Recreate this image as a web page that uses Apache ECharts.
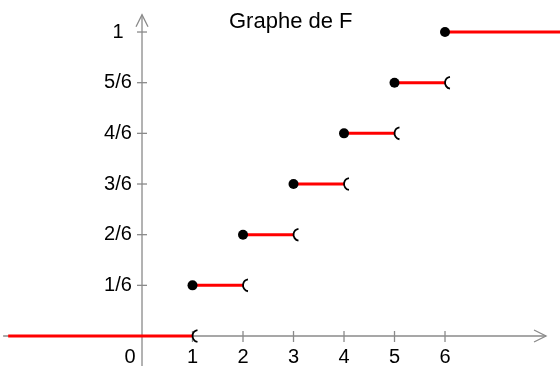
<!DOCTYPE html>
<html>
<head>
<meta charset="utf-8">
<script src="https://cdn.jsdelivr.net/npm/echarts@6/dist/echarts.min.js"></script>
<style>html,body{margin:0;padding:0;background:#fff}#c{width:560px;height:366px}</style>
</head>
<body>
<div id="c"></div>
<script>
// ---- data ----
const titleText = 'Graphe de F';
const jumpX = [1, 2, 3, 4, 5, 6];           // points where F jumps
const Fsixths = [0, 1, 2, 3, 4, 5, 6];      // F value on each interval, in sixths
const leftEnd = -2.65;                      // where the first red segment starts
const rightEnd = 8.3;                       // where the last red segment ends
const xTickValues = [1, 2, 3, 4, 5, 6];
const xLabelValues = [0, 1, 2, 3, 4, 5, 6];
const xLabelTexts = ['0', '1', '2', '3', '4', '5', '6'];
const yTickValues = [1, 2, 3, 4, 5, 6];
const yLabelTexts = ['1/6', '2/6', '3/6', '4/6', '5/6', '1'];
const xAxisFrom = -2.75, xAxisTo = 8.0;
const yAxisFrom = -0.6, yAxisTo = 6.34;
const xMin = -2.812, xMax = 8.277;
const yMin = -0.592, yMax = 6.632;

// ---- build ----
const segments = Fsixths.map((v, i) => [
  i === 0 ? leftEnd : jumpX[i - 1],
  i === Fsixths.length - 1 ? rightEnd : jumpX[i],
  v
]);
const closedPts = jumpX.map((x, i) => [x, Fsixths[i + 1]]);
const openPts = jumpX.map((x, i) => [x, Fsixths[i]]);

const axisColor = '#8a8a8a';
const font = 'Liberation Sans, Arial, sans-serif';
const W = 560, H = 366;
// pixel offsets that put each axis' labels on the other axis' zero
const xAxisOffset = -(H * (0 - yMin) / (yMax - yMin));
const yAxisOffset = -(W * (0 - xMin) / (xMax - xMin));

const chart = echarts.init(document.getElementById('c'), null, {renderer: 'canvas'});
chart.setOption({
  animation: false,
  backgroundColor: '#ffffff',
  title: {
    text: titleText, left: 224, top: 6,
    textStyle: {fontFamily: font, fontSize: 22, fontWeight: 'normal', color: '#000'}
  },
  grid: {left: 0, right: 0, top: 0, bottom: 0, containLabel: false, outerBoundsMode: 'none'},
  xAxis: {
    type: 'value', min: xMin, max: xMax, position: 'bottom', offset: xAxisOffset,
    axisLine: {show: false, onZero: false},
    axisTick: {show: false}, splitLine: {show: false},
    axisLabel: {
      customValues: xLabelValues,
      formatter: v => { const t = xLabelTexts[xLabelValues.indexOf(v)]; return v === 0 ? '{z|' + t + '}' : t; },
      margin: 11, fontFamily: font, fontSize: 20, color: '#000',
      rich: {z: {fontFamily: font, fontSize: 20, color: '#000', padding: [0, 24, 0, 0]}}
    }
  },
  yAxis: {
    type: 'value', min: yMin, max: yMax, position: 'left', offset: yAxisOffset,
    axisLine: {show: false, onZero: false},
    axisTick: {show: false}, splitLine: {show: false},
    axisLabel: {
      customValues: yTickValues,
      formatter: v => yLabelTexts[yTickValues.indexOf(v)],
      margin: 24, align: 'center', fontFamily: font, fontSize: 20, color: '#000'
    }
  },
  series: [
    {
      type: 'custom', z: 1, silent: true,
      data: [[0, 0]],
      renderItem: function (params, api) {
        const xl = api.coord([xAxisFrom, 0]), xr = api.coord([xAxisTo, 0]);
        const yb = api.coord([0, yAxisFrom]), yt = api.coord([0, yAxisTo]);
        const st = {stroke: axisColor, lineWidth: 1.3, fill: null};
        const ch = [];
        ch.push({type: 'line', shape: {x1: xl[0], y1: xl[1], x2: xr[0], y2: xr[1]}, style: st});
        ch.push({type: 'line', shape: {x1: yb[0], y1: yb[1], x2: yt[0], y2: yt[1]}, style: st});
        ch.push({type: 'polyline', shape: {points: [[xr[0] - 12, xr[1] - 6], [xr[0], xr[1]], [xr[0] - 12, xr[1] + 6]]}, style: st});
        ch.push({type: 'polyline', shape: {points: [[yt[0] - 6, yt[1] + 12], [yt[0], yt[1]], [yt[0] + 6, yt[1] + 12]]}, style: st});
        xTickValues.forEach(v => {
          const p = api.coord([v, 0]);
          ch.push({type: 'line', shape: {x1: p[0], y1: p[1] - 5, x2: p[0], y2: p[1] + 6}, style: st});
        });
        yTickValues.forEach(v => {
          const p = api.coord([0, v]);
          ch.push({type: 'line', shape: {x1: p[0] - 5, y1: p[1], x2: p[0] + 5, y2: p[1]}, style: st});
        });
        return {type: 'group', children: ch};
      }
    },
    {
      type: 'custom', z: 2, silent: true,
      data: segments,
      renderItem: function (params, api) {
        const a = api.coord([api.value(0), api.value(2)]);
        const b = api.coord([api.value(1), api.value(2)]);
        return {type: 'line', shape: {x1: a[0], y1: a[1], x2: b[0], y2: b[1]},
          style: {stroke: '#ff0000', lineWidth: 3}};
      }
    },
    {
      type: 'scatter', z: 3, silent: true,
      data: closedPts, symbol: 'circle', symbolSize: 10,
      itemStyle: {color: '#000', opacity: 1}
    },
    {
      type: 'custom', z: 3, silent: true,
      data: openPts,
      renderItem: function (params, api) {
        const p = api.coord([api.value(0), api.value(1)]);
        return {type: 'arc', shape: {cx: p[0] + 6, cy: p[1], r: 6,
            startAngle: 100 * Math.PI / 180, endAngle: 260 * Math.PI / 180, clockwise: true},
          style: {stroke: '#000', lineWidth: 1.8, fill: null}};
      }
    }
  ]
});
</script>
</body>
</html>
